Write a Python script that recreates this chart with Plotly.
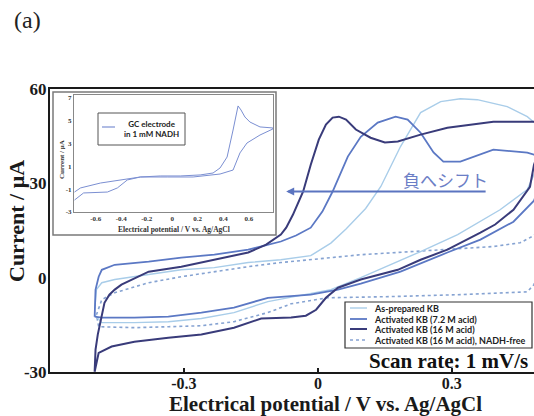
import plotly.graph_objects as go

# ---------------- main CV data (potential in V vs Ag/AgCl, current in uA) ----------------
E_16M = [-0.500, -0.498, -0.493, -0.489, -0.478, -0.467, -0.455, -0.440, -0.417, -0.379, -0.306,
         -0.232, -0.156, -0.116, -0.098, -0.083, -0.071, -0.056, -0.033, -0.016, 0.002, 0.018,
         0.033, 0.047, 0.063, 0.085, 0.118, 0.150, 0.179, 0.230, 0.290, 0.393, 0.484, 0.52,
         0.484, 0.475, 0.438, 0.397, 0.364, 0.290, 0.230, 0.179, 0.096, 0.045, 0.018, -0.004,
         -0.027, -0.060, -0.127, -0.188, -0.261, -0.335, -0.411, -0.462, -0.491, -0.500]
I_16M = [-29.9, -22.9, -18.1, -15.6, -8.0, -5.4, -3.8, -2.2, -0.6, 1.9, 3.5,
         5.7, 8.0, 10.5, 12.1, 13.7, 15.9, 20.0, 27.4, 35.9, 43.9, 48.7,
         50.9, 51.2, 50.3, 47.1, 44.5, 43.0, 43.3, 45.5, 47.7, 49.6, 49.6, 50.0,
         35.9, 28.9, 21.6, 16.9, 14.3, 8.9, 5.7, 2.5, -0.6, -3.2, -6.4, -10.2,
         -12.1, -12.7, -13.0, -15.9, -18.1, -19.1, -20.4, -21.9, -23.9, -29.9]

E_72M = [-0.500, -0.498, -0.491, -0.484, -0.455, -0.379, -0.306, -0.232, -0.156, -0.083, -0.049,
         -0.016, 0.010, 0.033, 0.067, 0.096, 0.134, 0.174, 0.201, 0.230, 0.259, 0.281, 0.319,
         0.393, 0.469, 0.484, 0.52,
         0.484, 0.438, 0.364, 0.290, 0.185, 0.096, 0.045, -0.016, -0.112, -0.188, -0.261,
         -0.335, -0.411, -0.484, -0.500]
I_72M = [-12.4, -3.8, 0.3, 2.5, 4.1, 5.1, 6.4, 7.3, 8.9, 11.5, 13.4,
         15.9, 21.0, 27.4, 38.5, 44.8, 49.3, 51.2, 50.3, 46.1, 39.8, 36.9, 36.9,
         40.7, 39.8, 39.1, 38.0,
         24.5, 17.8, 12.1, 8.0, 1.9, -1.9, -3.8, -5.4, -6.4, -9.5, -11.1,
         -12.4, -12.7, -12.7, -12.4]

E_asprep = [-0.500, -0.496, -0.484, -0.455, -0.379, -0.306, -0.232, -0.156, -0.083, -0.016, 0.029,
            0.063, 0.107, 0.141, 0.185, 0.230, 0.275, 0.319, 0.357, 0.424, 0.469, 0.484, 0.52,
            0.484, 0.469, 0.408, 0.313, 0.230, 0.163, 0.096, 0.029, -0.038, -0.112, -0.188,
            -0.261, -0.335, -0.411, -0.484, -0.500]
I_asprep = [-10.2, -3.8, -1.6, -0.6, 1.0, 2.5, 3.2, 4.8, 5.7, 7.0, 11.0,
            15.5, 22.0, 29.0, 41.7, 52.5, 56.0, 56.9, 56.6, 54.4, 51.2, 49.3, 45.0,
            32.8, 28.0, 21.6, 13.7, 8.3, 4.1, 0.0, -3.8, -5.7, -7.6, -11.1,
            -13.0, -14.0, -14.3, -14.3, -11.8]

E_free = [-0.496, -0.484, -0.455, -0.379, -0.306, -0.232, -0.156, -0.083, 0.007, 0.096, 0.246,
          0.393, 0.453, 0.484, 0.52,
          0.484, 0.469, 0.319, 0.170, 0.022, -0.060, -0.112, -0.188, -0.261, -0.335, -0.411,
          -0.491, -0.496]
I_free = [-11.8, -7.0, -4.8, -1.6, 0.3, 1.9, 3.5, 4.8, 6.0, 7.3, 8.6,
          9.9, 11.1, 13.4, 20.0,
          -2.2, -4.5, -5.4, -6.0, -6.4, -8.3, -11.1, -14.0, -15.3, -15.6, -15.9,
          -15.6, -11.8]

series_names = ["As-prepared KB", "Activated KB (7.2 M acid)", "Activated KB (16 M acid)",
                "Activated KB (16 M acid), NADH-free"]

# ---------------- inset data (GC electrode in 1 mM NADH) ----------------
E_gc = [-0.766, -0.719, -0.563, -0.406, -0.250, -0.094, 0.063, 0.219, 0.320, 0.375, 0.430,
        0.477, 0.508, 0.516, 0.539, 0.570, 0.609, 0.688, 0.789,
        0.789, 0.688, 0.586, 0.531, 0.477, 0.375, 0.164, -0.039, -0.250, -0.352, -0.430,
        -0.508, -0.695, -0.766]
I_gc = [-1.25, -0.89, -0.46, -0.19, 0.07, 0.16, 0.16, 0.25, 0.42, 0.86, 1.82,
        4.19, 5.68, 6.30, 5.95, 5.33, 4.89, 4.46, 4.37,
        4.28, 3.75, 3.05, 2.18, 0.68, 0.33, 0.07, 0.07, 0.07, -0.19, -0.89,
        -1.25, -1.33, -1.95]

# ---------------- ticks ----------------
x_tickvals = [-0.3, 0, 0.3]
x_ticktext = ["-0.3", "0", "0.3"]
y_tickvals = [-30, 0, 30, 60]
y_ticktext = ["-30", "0", "30", "60"]
ix_tickvals = [-0.6, -0.4, -0.2, 0, 0.2, 0.4, 0.6]
ix_ticktext = ["-0.6", "-0.4", "-0.2", "0", "0.2", "0.4", "0.6"]
iy_tickvals = [7, 5, 3, 1, -1, -3]
iy_ticktext = ["7", "5", "3", "1", "-1", "-3"]

C_AS = "#a9cde9"
C_72 = "#5b78c4"
C_16 = "#393b7a"
C_FREE = "#86a3d2"
C_GC = "#7b8fd2"

SERIF = "Liberation Serif"
SANS = "Lato"

fig = go.Figure()
fig.add_trace(go.Scatter(x=E_free, y=I_free, mode="lines", name=series_names[3],
                         line=dict(color=C_FREE, width=1.6, dash="dot"), showlegend=False))
fig.add_trace(go.Scatter(x=E_asprep, y=I_asprep, mode="lines", name=series_names[0],
                         line=dict(color=C_AS, width=1.4), showlegend=False))
fig.add_trace(go.Scatter(x=E_72M, y=I_72M, mode="lines", name=series_names[1],
                         line=dict(color=C_72, width=1.8), showlegend=False))
fig.add_trace(go.Scatter(x=E_16M, y=I_16M, mode="lines", name=series_names[2],
                         line=dict(color=C_16, width=2.0), showlegend=False))
fig.add_trace(go.Scatter(x=E_gc, y=I_gc, mode="lines", name="GC electrode in 1 mM NADH",
                         line=dict(color=C_GC, width=1.0), xaxis="x2", yaxis="y2",
                         showlegend=False))

L, T, B = 50, 89, 44
W, H = 534, 416
PW, PH = W - L, H - T - B


def px(x):
    return (x - L) / PW


def py(y):
    return (H - B - y) / PH


shapes = []
# inset frame
shapes.append(dict(type="rect", xref="paper", yref="paper", x0=px(53), x1=px(276),
                   y0=py(235), y1=py(92), line=dict(color="#7a7a7a", width=1.5),
                   fillcolor="white", layer="below"))
# inset legend box
shapes.append(dict(type="rect", xref="paper", yref="paper", x0=px(98), x1=px(185),
                   y0=py(145), y1=py(113), line=dict(color="#555", width=1),
                   fillcolor="white", layer="above"))
shapes.append(dict(type="line", xref="paper", yref="paper", x0=px(102), x1=px(115),
                   y0=py(127), y1=py(127), line=dict(color=C_GC, width=1.2)))
# main legend box
shapes.append(dict(type="rect", xref="paper", yref="paper", x0=px(345), x1=px(532),
                   y0=py(348), y1=py(302), line=dict(color="#333", width=1.2),
                   fillcolor="white", layer="above"))
leg_y = [308, 319, 329, 340]
leg_style = [(C_AS, 1.4, "solid"), (C_72, 1.8, "solid"), (C_16, 2.0, "solid"), (C_FREE, 1.5, "dot")]
annotations = []
for yy, (c, w, d), name in zip(leg_y, leg_style, series_names):
    shapes.append(dict(type="line", xref="paper", yref="paper", x0=px(350), x1=px(367),
                       y0=py(yy), y1=py(yy), line=dict(color=c, width=w, dash=d)))
    annotations.append(dict(xref="paper", yref="paper", x=px(372), y=py(yy), text=name,
                            showarrow=False, xanchor="left", yanchor="middle",
                            font=dict(family=SANS, size=9, color="#222", weight="bold")))

annotations += [
    dict(xref="paper", yref="paper", x=px(151), y=py(129), text="GC electrode<br>in 1 mM NADH",
         showarrow=False, xanchor="center", yanchor="middle", align="center",
         font=dict(family=SANS, size=8, color="#222", weight="bold")),
    dict(xref="paper", yref="paper", x=px(62), y=py(160), text="Current / μA", textangle=-90,
         showarrow=False, xanchor="center", yanchor="middle",
         font=dict(family=SERIF, size=7, color="#333", weight="bold")),
    dict(xref="paper", yref="paper", x=px(174), y=py(229),
         text="Electrical potential / V vs. Ag/AgCl", showarrow=False,
         xanchor="center", yanchor="middle",
         font=dict(family=SERIF, size=7.5, color="#333", weight="bold")),
    # main axis titles
    dict(xref="paper", yref="paper", x=px(325), y=py(404),
         text="Electrical potential / V vs. Ag/AgCl", showarrow=False,
         xanchor="center", yanchor="middle",
         font=dict(family=SERIF, size=21, color="#1a1a1a", weight="bold")),
    dict(xref="paper", yref="paper", x=px(16), y=py(221), text="Current / μA", textangle=-90,
         showarrow=False, xanchor="center", yanchor="middle",
         font=dict(family=SERIF, size=22, color="#1a1a1a", weight="bold")),
    dict(xref="paper", yref="paper", x=px(448), y=py(361), text="Scan rate: 1 mV/s",
         showarrow=False, xanchor="center", yanchor="middle",
         font=dict(family=SERIF, size=21, color="#111", weight="bold")),
    dict(xref="paper", yref="paper", x=px(27), y=py(20), text="(a)",
         showarrow=False, xanchor="center", yanchor="middle",
         font=dict(family=SERIF, size=24, color="#222")),
    dict(xref="paper", yref="paper", x=px(445), y=py(179), text="負へシフト",
         showarrow=False, xanchor="center", yanchor="middle",
         font=dict(family="Noto Sans CJK JP", size=17, color="#6b7ec6")),
    # shift arrow
    dict(xref="x", yref="y", axref="x", ayref="y", x=-0.071, y=27.4, ax=0.379, ay=27.4,
         text="", showarrow=True, arrowhead=2, arrowsize=0.8, arrowwidth=2,
         arrowcolor="#5b74c0"),
]

fig.update_layout(
    width=W, height=H,
    margin=dict(l=L, r=0, t=T, b=B),
    paper_bgcolor="white", plot_bgcolor="rgba(0,0,0,0)",
    showlegend=False,
    shapes=shapes, annotations=annotations,
    xaxis=dict(range=[-0.6, 0.484], domain=[0, 1], showgrid=False, zeroline=False,
               showline=True, linecolor="#1a1a1a", linewidth=2, mirror=True,
               ticks="inside", ticklen=4, tickwidth=1.5, tickcolor="#1a1a1a",
               tickvals=x_tickvals, ticktext=x_ticktext, ticklabelstandoff=-4,
               tickfont=dict(family=SERIF, size=16, color="#1a1a1a", weight="bold")),
    yaxis=dict(range=[-30, 60], domain=[0, 1], showgrid=False, zeroline=False,
               showline=True, linecolor="#1a1a1a", linewidth=2, mirror=False,
               ticks="", tickvals=y_tickvals, ticktext=y_ticktext, ticklabelstandoff=-2,
               tickfont=dict(family=SERIF, size=17, color="#1a1a1a", weight="bold")),
    xaxis2=dict(range=[-0.77, 0.79], domain=[px(74), px(273)], anchor="y2",
                showgrid=False, zeroline=False, showline=True, linecolor="#888",
                linewidth=1, mirror=True, ticks="", tickvals=ix_tickvals, ticktext=ix_ticktext,
                tickfont=dict(family=SERIF, size=7, color="#333", weight="bold")),
    yaxis2=dict(range=[-3, 7.26], domain=[py(212), py(95)], anchor="x2",
                showgrid=False, zeroline=False, showline=True, linecolor="#888",
                linewidth=1, mirror=True, ticks="", tickvals=iy_tickvals, ticktext=iy_ticktext,
                tickfont=dict(family=SERIF, size=7, color="#333", weight="bold")),
)

fig.write_html("out.html")
